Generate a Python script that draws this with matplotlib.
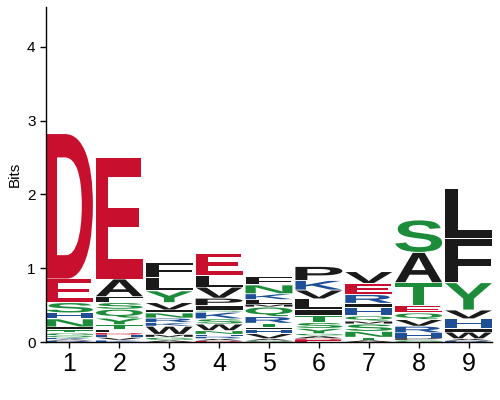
"""
Sequence logo, 9 positions, information content in bits.
Letters stacked bottom -> top, each scaled to its bit height.
"""

import matplotlib
matplotlib.use("Agg")
import matplotlib.pyplot as plt
from matplotlib.textpath import TextPath
from matplotlib.patches import PathPatch
from matplotlib.font_manager import FontProperties
from matplotlib.transforms import Affine2D

POSITIONS = [1, 2, 3, 4, 5, 6, 7, 8, 9]

# letters per position, bottom to top
STACK_LETTERS = [
    "RAKQGTINHSED",
    "KVHDLTYQSFAE",
    "AGMWKRNIVYLF",
    "DARHNWSKQIPVLE",
    "GAVHITRQMLKNF",
    "EDAGYSTILVKP",
    "ATNSMQHIREV",
    "GPHRVQETAS",
    "RAWIHVYFL",
]

# bits per letter, same order as above
STACK_BITS = [
    [0.02, 0.02, 0.02, 0.03, 0.04, 0.04, 0.04, 0.11, 0.08, 0.14, 0.32, 1.97],
    [0.03, 0.04, 0.03, 0.03, 0.04, 0.07, 0.09, 0.12, 0.09, 0.08, 0.24, 1.65],
    [0.03, 0.04, 0.04, 0.11, 0.05, 0.06, 0.07, 0.04, 0.10, 0.16, 0.18, 0.20],
    [0.02, 0.03, 0.03, 0.03, 0.05, 0.09, 0.07, 0.09, 0.02, 0.07, 0.10, 0.15, 0.16, 0.30],
    [0.02, 0.03, 0.07, 0.05, 0.03, 0.06, 0.09, 0.13, 0.04, 0.06, 0.08, 0.12, 0.11],
    [0.03, 0.02, 0.04, 0.03, 0.07, 0.08, 0.09, 0.09, 0.14, 0.12, 0.13, 0.19],
    [0.03, 0.04, 0.08, 0.10, 0.04, 0.07, 0.11, 0.06, 0.12, 0.15, 0.16],
    [0.03, 0.03, 0.07, 0.09, 0.09, 0.09, 0.10, 0.31, 0.41, 0.44],
    [0.02, 0.03, 0.09, 0.05, 0.13, 0.12, 0.37, 0.60, 0.67],
]

RED, GREEN, BLUE, BLACK = "#c8102e", "#1d8c3a", "#1f4f96", "#1a1a1a"
COLOURS = {}
for aa in "DE":
    COLOURS[aa] = RED
for aa in "KRH":
    COLOURS[aa] = BLUE
for aa in "AVLIPWFM":
    COLOURS[aa] = BLACK
for aa in "GSTYCNQ":
    COLOURS[aa] = GREEN

WIDTH = 0.94
GAP = 0.012   # thin white seam between stacked letters
glyph_font = FontProperties(family="Liberation Sans", weight="bold")


def draw_letter(ax, ch, x, y0, h, w=WIDTH):
    tp = TextPath((0, 0), ch, size=1, prop=glyph_font)
    bb = tp.get_extents()
    hd = h - min(GAP, h * 0.3)
    tr = (Affine2D()
          .translate(-bb.x0, -bb.y0)
          .scale(w / bb.width, hd / bb.height)
          .translate(x - w / 2, y0))
    path = tr.transform_path(tp)
    ax.add_patch(PathPatch(path, facecolor=COLOURS[ch], edgecolor="none",
                           lw=0, transform=ax.transData))


plt.rcParams["font.family"] = ["Liberation Sans", "DejaVu Sans"]

fig = plt.figure(figsize=(5, 4), dpi=100)
ax = fig.add_axes([0.092, 0.145, 0.892, 0.8375])

for pos, letters, bits in zip(POSITIONS, STACK_LETTERS, STACK_BITS):
    y = 0.0
    for ch, h in zip(letters, bits):
        draw_letter(ax, ch, pos, y, h)
        y += h

ax.set_xlim(0.53, 9.47)
ax.set_ylim(0, 4.54)
ax.set_xticks(POSITIONS)
ax.set_xticklabels([str(p) for p in POSITIONS], fontsize=18)
ax.set_yticks([0, 1, 2, 3, 4])
ax.tick_params(axis="y", labelsize=11, length=4, width=1)
ax.tick_params(axis="x", length=4, width=1, pad=3)
ax.set_ylabel("Bits", fontsize=11, labelpad=4)
for side in ("top", "right"):
    ax.spines[side].set_visible(False)
for side in ("left", "bottom"):
    ax.spines[side].set_linewidth(1)

fig.savefig("out.png", dpi=100)
